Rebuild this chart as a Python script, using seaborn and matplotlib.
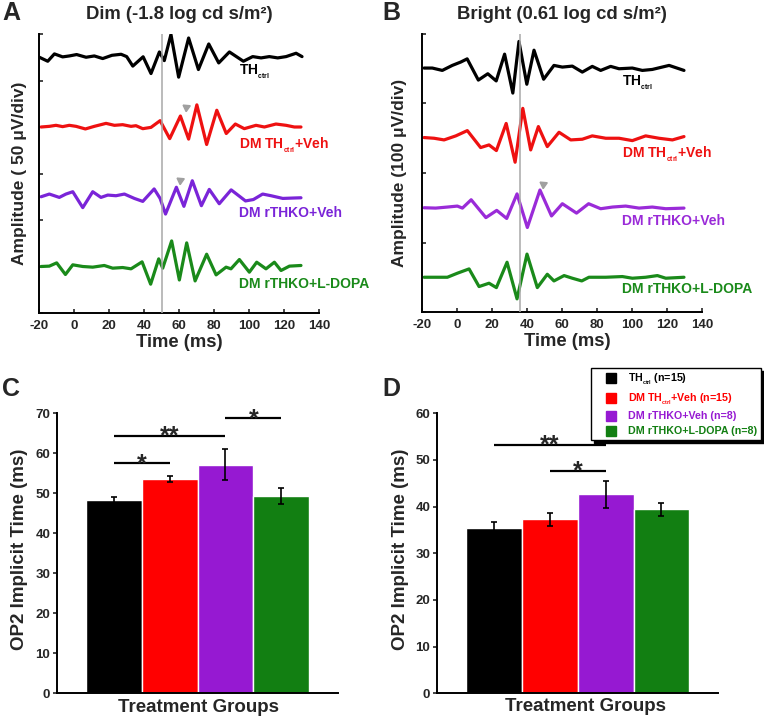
import numpy as np
import seaborn as sns
import matplotlib.pyplot as plt
from matplotlib.lines import Line2D

# ---- oscillatory potential traces: time (ms) and amplitude (uV, relative to the trace baseline) ----
dim_t_ctrl = [-19.8, -15.0, -11.2, -6.5, -2.7, 1.5, 6.9, 11.6, 16.4, 21.7, 26.9, 30.1, 33.6, 39.5, 44.0, 48.8,
              51.6, 55.4, 59.8, 65.5, 71.1, 77.0, 82.7, 88.8, 96.8, 102.1, 106.9, 111.6, 116.4, 121.2, 126.9, 130.3]
dim_v_ctrl = [0, -4.3, 3.6, 0.4, 1.4, 2.9, 0, 1.4, -1.4, 2.1, 3.2, 0.7, -9.5, 0.5, -17.5, 5.7,
              -3.6, 24.5, -21.4, 20.7, -13.2, 14.3, -6.1, 5.7, -4.3, 0.7, -0.7, 0.7, -0.7, 0.7, 4.3, 0.7]

dim_t_dmveh = [-18.8, -14.1, -10.3, -6.5, -2.7, 1.2, 6.5, 11.6, 18.3, 23.1, 27.8, 32.6, 35.4, 39.3, 44.0, 49.2,
               54.7, 60.8, 65.5, 70.2, 75.8, 81.6, 87.0, 92.2, 97.3, 104.0, 108.8, 115.4, 121.2, 125.9, 129.7]
dim_v_dmveh = [0, 0.7, 1.8, 0.4, 1.8, 0.7, -2.1, 0.7, 3.9, 1.8, 2.5, 0.7, 1.4, -1.8, -0.4, 6.8,
               -12.5, 11.8, -13.0, 23.8, -18.8, 18.0, -7.0, 3.2, -1.8, 1.8, 0, 3.2, 1.8, 0, 0]

dim_t_ko = [-18.8, -14.1, -8.4, -4.6, -0.7, 5.0, 10.7, 15.4, 19.3, 24.0, 28.8, 34.5, 39.3, 45.8, 49.2,
            52.3, 58.5, 62.8, 67.6, 72.8, 77.3, 83.0, 89.8, 98.0, 102.5, 107.8, 112.6, 119.3, 125.0, 129.7]
dim_v_ko = [0, 2.9, -0.7, 2.9, 5.4, -11.7, 5.4, -0.7, 1.8, 1.1, 2.9, -1.8, -5.0, 8.4, -1.8,
            -18.6, 10.2, -10.3, 17.2, -9.6, 7.9, -7.5, 7.4, -4.5, -3.0, 2.9, 1.1, -1.8, -1.4, -1.1]

dim_t_ldopa = [-18.8, -14.1, -9.9, -4.9, -0.7, 5.0, 10.7, 17.3, 22.1, 27.8, 32.6, 38.9, 43.8, 48.4, 50.7,
               55.8, 60.2, 64.4, 69.2, 75.8, 81.2, 86.9, 89.7, 94.5, 100.2, 104.4, 109.7, 114.5, 118.3, 123.1, 129.7]
dim_v_ldopa = [0, 0.4, 3.9, -8.6, 1.8, 0, -0.7, 1.1, -1.8, -1.1, -2.5, 5.0, -19.0, 8.2, -1.8,
               27.5, -14.5, 25.4, -15.5, 13.2, -9.0, -0.7, -2.5, 7.5, -6.1, 4.6, -2.5, 4.6, -4.3, 0.4, 1.1]

bright_t_ctrl = [-18.8, -14.1, -8.4, -2.7, 2.1, 5.8, 12.2, 17.6, 22.4, 27.2, 31.9, 35.4, 39.9, 44.0, 49.5,
                 55.4, 60.2, 65.9, 71.6, 77.3, 82.1, 87.8, 92.6, 100.2, 105.9, 111.6, 121.2, 129.7]
bright_v_ctrl = [1.0, 1.0, -2.4, 4.8, 9.6, 14.2, -16.3, -7.2, -17.5, 21.0, -35.0, 39.3, -22.3, 26.7, -15.1,
                 4.8, 2.4, 3.8, -4.8, 3.4, -2.4, 3.4, 0, 1.0, -2.4, -1.0, 4.8, -2.4]

bright_t_dmveh = [-18.8, -13.1, -7.4, -0.7, 5.9, 13.5, 18.3, 22.5, 28.1, 33.2, 37.6, 42.1, 46.5, 51.6, 58.3,
                  65.0, 71.6, 77.3, 85.0, 92.6, 100.2, 107.8, 115.4, 123.1, 129.7]
bright_v_dmveh = [1.0, 0, -2.4, 3.4, 11.0, -13.4, -9.6, -17.7, 21.3, -34.5, 43.0, -16.8, 16.8, -12.0, 8.6,
                  -2.4, -1.4, 3.4, 0, 0, -3.4, 3.4, 0, -2.4, 2.4]

bright_t_ko = [-18.8, -12.2, -5.5, 0.2, 3.1, 8.1, 16.5, 22.7, 28.4, 34.3, 40.2, 47.4, 54.0, 60.2, 68.3,
               75.2, 82.1, 88.8, 96.4, 104.0, 111.6, 119.3, 129.7]
bright_v_ko = [0, -0.5, 1.0, 2.4, -0.5, 11.5, -14.2, -3.8, -15.4, 19.9, -28.4, 25.5, -11.8, 5.8, -7.7,
               5.8, -1.4, 1.0, 2.4, -0.5, 1.0, -1.4, -0.5]

bright_t_ldopa = [-18.8, -11.2, -5.5, 0.2, 6.9, 12.6, 18.3, 22.5, 28.6, 34.3, 40.0, 45.9, 51.6, 55.4, 61.2,
                  65.9, 71.3, 75.4, 85.0, 94.5, 100.2, 107.8, 114.5, 119.3, 129.7]
bright_v_ldopa = [0, 0, 0, 5.8, 12.0, -13.4, -8.6, -14.9, 21.6, -31.1, 33.3, -14.9, 4.3, -5.3, 2.4,
                  -1.4, -5.3, 0, 0, 1.0, -1.4, 0, 2.4, -1.4, 0]

# trace baselines (uV) used to stack the traces
dim_offsets = [275, 200, 125, 50]
bright_offsets = [350, 250, 150, 50]

# OP2 markers (time ms, amplitude uV)
dim_arrows = [(64.0, 200 + 22), (60.6, 125 + 17.5)]
bright_arrows = [(49.3, 150 + 34.5)]

# ---- OP2 implicit time bars ----
groups = ['TH$_{{}_{ctrl}}$', 'DM TH$_{{}_{ctrl}}$+Veh', 'DM rTHKO+Veh', 'DM rTHKO+L-DOPA']
group_n = [15, 15, 8, 8]
op2_dim_mean = [48.3, 53.5, 57.1, 49.4]
op2_dim_sem = [0.9, 0.8, 3.9, 2.0]
op2_bright_mean = [35.5, 37.3, 42.6, 39.4]
op2_bright_sem = [1.3, 1.35, 2.8, 1.45]

# significance brackets: (bar i, bar j, height, stars)
sig_dim = [(0, 1, 57.5, '*'), (0, 2, 64.3, '**'), (2, 3, 68.75, '*')]
sig_bright = [(0, 2, 53.2, '**'), (1, 2, 47.7, '*')]

bar_colors = ['#000000', '#ff0000', '#9619d2', '#127f12']
dim_colors = ['#000000', '#ee1111', '#7a24d8', '#1a8a1a']
bright_colors = ['#000000', '#ee1111', '#9a2bd8', '#1a8a1a']

sns.set_style('ticks')
plt.rcParams['font.family'] = ['Liberation Sans', 'DejaVu Sans']
plt.rcParams['font.weight'] = 'bold'
plt.rcParams['axes.labelweight'] = 'bold'
plt.rcParams['axes.unicode_minus'] = False
plt.rcParams['mathtext.fontset'] = 'custom'
plt.rcParams['mathtext.rm'] = 'Liberation Sans:bold'
plt.rcParams['mathtext.bf'] = 'Liberation Sans:bold'
plt.rcParams['mathtext.it'] = 'Liberation Sans:bold'
plt.rcParams['mathtext.default'] = 'rm'

W, H = 764, 718
fig = plt.figure(figsize=(W / 100, H / 100), dpi=100)


def px_axes(left, top, right, bottom):
    return fig.add_axes([left / W, 1 - bottom / H, (right - left) / W, (bottom - top) / H])


ax_a = px_axes(39, 34, 319, 313)
ax_b = px_axes(422, 34, 702, 312)
ax_c = px_axes(57.3, 413.3, 338, 693.3)
ax_d = px_axes(437.3, 413.3, 718.3, 693.3)


def draw_traces(ax, traces, offsets, colors, ymax, step, vline, arrows, ylabel, title, label_y):
    for (t, v), off, c in zip(traces, offsets, colors):
        sns.lineplot(x=t, y=np.array(v) + off, ax=ax, color=c, lw=2.3, estimator=None,
                     sort=False, legend=False, solid_joinstyle='round', solid_capstyle='round')
    ax.axvline(vline, color='#a8a8a8', lw=1.1, zorder=5)
    for x, y in arrows:
        ax.plot(x, y, marker=(3, 0, -65), color='#a0a0a0', markersize=6, zorder=6)
    labels = groups
    for lab, ly, c in zip(labels, label_y, colors):
        ax.text(94.2, ly, lab, color=c, fontsize=10, fontweight='bold', ha='left', va='center')
    ax.set_xlim(-20, 140)
    ax.set_ylim(0, ymax)
    ax.set_xticks(range(-20, 141, 20))
    ax.set_yticks(np.arange(0, ymax + 1, step))
    ax.set_yticklabels([])
    ax.tick_params(direction='in', length=3, width=1.2, labelsize=9.5, pad=5)
    for s in ['top', 'right']:
        ax.spines[s].set_visible(False)
    for s in ['left', 'bottom']:
        ax.spines[s].set_linewidth(1.4)
        ax.spines[s].set_color('black')
    ax.set_xlabel('Time (ms)', fontsize=13.3, va='center')
    ax.set_ylabel(ylabel, fontsize=12.5, va='center')
    ax.set_title(title, fontsize=13.3, fontweight='bold', pad=10.5)


draw_traces(ax_a,
            [(dim_t_ctrl, dim_v_ctrl), (dim_t_dmveh, dim_v_dmveh), (dim_t_ko, dim_v_ko), (dim_t_ldopa, dim_v_ldopa)],
            dim_offsets, dim_colors, 300, 50, 50, dim_arrows,
            'Amplitude ( 50 \u03bcV/div)', 'Dim (-1.8 log cd s/m\u00b2)', [259, 180, 107, 31])
ax_a.xaxis.set_label_coords(0.5, -0.107)
ax_a.yaxis.set_label_coords(-0.068, 0.5)

draw_traces(ax_b,
            [(bright_t_ctrl, bright_v_ctrl), (bright_t_dmveh, bright_v_dmveh), (bright_t_ko, bright_v_ko),
             (bright_t_ldopa, bright_v_ldopa)],
            bright_offsets, bright_colors, 400, 100, 36, bright_arrows,
            'Amplitude (100 \u03bcV/div)', 'Bright (0.61 log cd s/m\u00b2)', [329, 226, 131, 33])
ax_b.xaxis.set_label_coords(0.52, -0.107)
ax_b.yaxis.set_label_coords(-0.082, 0.5)


def draw_bars(ax, means, sems, ymax, sigs):
    sns.barplot(x=groups, y=means, hue=groups, hue_order=groups, order=groups, palette=bar_colors,
                width=1, saturation=1, legend=False, errorbar=None, ax=ax)
    ax.errorbar(range(len(means)), means, yerr=sems, fmt='none', ecolor='black', elinewidth=1.2,
                capsize=2.5, capthick=1.2, zorder=5)
    for i, j, h, stars in sigs:
        ax.plot([i, j], [h, h], color='black', lw=1.6, solid_capstyle='butt')
        ax.annotate(stars, xy=((i + j) / 2, h), xytext=(0, -5.5), textcoords='offset points',
                    ha='center', va='baseline', fontsize=18, fontweight='bold')
    ax.set_xlim(-1.02, 4.02)
    ax.set_ylim(0, ymax)
    ax.set_yticks(range(0, ymax + 1, 10))
    ax.set_xticks([])
    ax.tick_params(axis='y', direction='out', length=3, width=1.2, labelsize=9.5, pad=2)
    for s in ['top', 'right']:
        ax.spines[s].set_visible(False)
    for s in ['left', 'bottom']:
        ax.spines[s].set_linewidth(1.4)
        ax.spines[s].set_color('black')
    ax.set_xlabel('Treatment Groups', fontsize=13.5, va='center')
    ax.set_ylabel('OP2 Implicit Time (ms)', fontsize=13.5, va='center')


draw_bars(ax_c, op2_dim_mean, op2_dim_sem, 70, sig_dim)
ax_c.xaxis.set_label_coords(0.502, -0.049)
ax_c.yaxis.set_label_coords(-0.133, 0.515)

draw_bars(ax_d, op2_bright_mean, op2_bright_sem, 60, sig_bright)
ax_d.xaxis.set_label_coords(0.526, -0.048)
ax_d.yaxis.set_label_coords(-0.130, 0.515)

handles = [Line2D([], [], marker='s', color=c, linestyle='none', markersize=6.5) for c in bar_colors]
labels = [f'{g} (n={n})' for g, n in zip(groups, group_n)]
leg = ax_d.legend(handles, labels, loc='upper left', bbox_to_anchor=(591 / W, 1 - 368 / H),
                  bbox_transform=fig.transFigure, borderaxespad=0, fontsize=7.7, frameon=True,
                  fancybox=False, framealpha=1, edgecolor='black', handlelength=3, handletextpad=0.1,
                  borderpad=0.35, labelspacing=0.45, shadow={'color': 'black', 'alpha': 1})
leg.get_frame().set_linewidth(1.0)
for txt, c in zip(leg.get_texts(), bar_colors):
    txt.set_color(c)
    txt.set_fontweight('bold')

for letter, x, y in [('A', 2, 1), ('B', 382, 1), ('C', 2, 377), ('D', 382, 377)]:
    fig.text(x / W, 1 - y / H, letter, fontsize=18, fontweight='bold', ha='left', va='top')

fig.savefig('out.png', dpi=100)
